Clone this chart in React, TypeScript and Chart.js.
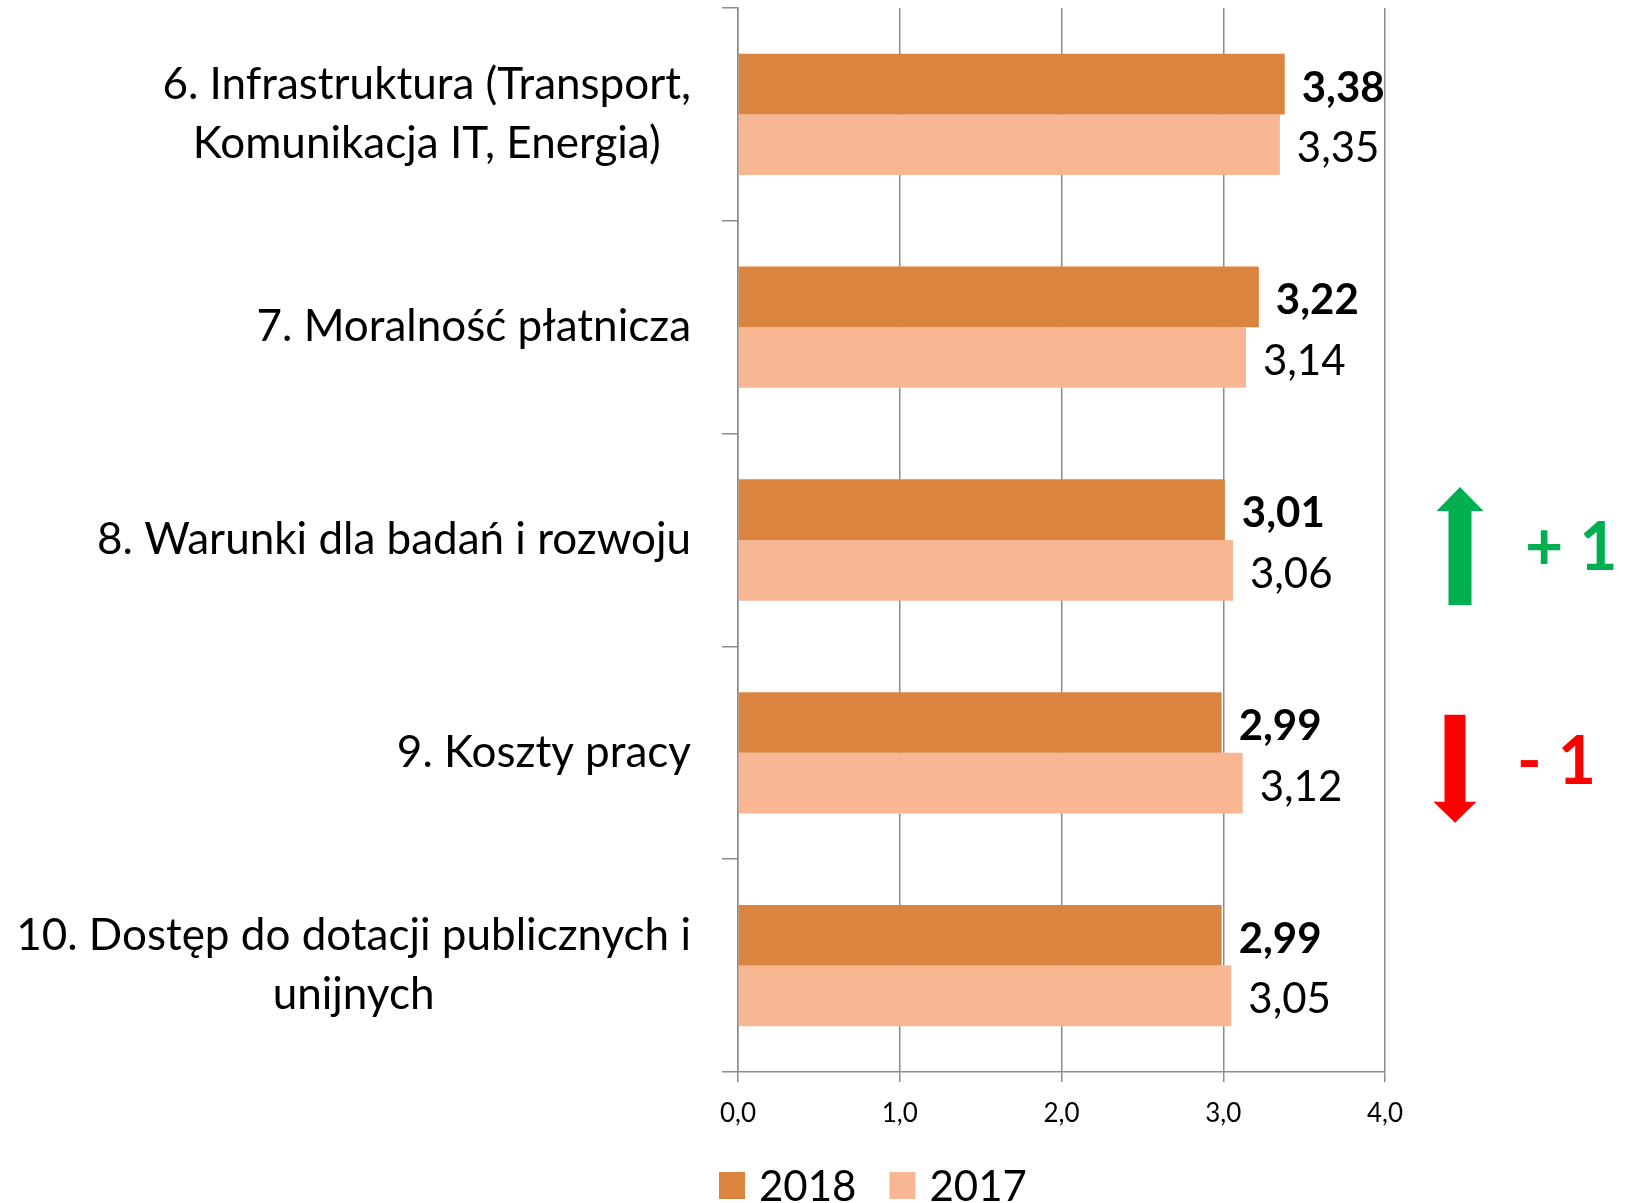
import React, { useEffect, useRef } from "react";
import { Chart, registerables } from "chart.js";

Chart.register(...registerables);

// ---- data ----
const categories: string[][] = [
  ["6. Infrastruktura (Transport,", "Komunikacja IT, Energia)"],
  ["7. Moralność płatnicza"],
  ["8. Warunki dla badań i rozwoju"],
  ["9. Koszty pracy"],
  ["10. Dostęp do dotacji publicznych i", "unijnych"],
];
const seriesLabels = ["2018", "2017"];
const values2018 = [3.38, 3.22, 3.01, 2.99, 2.99];
const values2017 = [3.35, 3.14, 3.06, 3.12, 3.05];
const xMin = 0;
const xMax = 4;
const xStep = 1;
// rank change per category (null = no marker)
const rankChanges: (number | null)[] = [null, null, 1, -1, null];
const rankLabels: (string | null)[] = [null, null, "+ 1", "- 1", null];

// ---- styles ----
const COLOR_2018 = "#DB843F";
const COLOR_2017 = "#F8B692";
const GRID = "#8C8C8C";
const FONT = "Lato, 'Open Sans', sans-serif";
const CAT_SIZE = 44;
const CAT_LINE = 59;

const fmt = (v: number, d: number) => v.toFixed(d).replace(".", ",");

const categoryLabelPlugin = {
  id: "categoryLabels",
  afterDraw(chart: any) {
    const ctx = chart.ctx;
    const y = chart.scales.y;
    const rightEdge = y.right - 16 - 31;
    ctx.save();
    ctx.font = `${CAT_SIZE}px ${FONT}`;
    ctx.fillStyle = "#000";
    ctx.textAlign = "center";
    ctx.textBaseline = "middle";
    categories.forEach((lines, i) => {
      const cy = y.getPixelForValue(i);
      const maxW = Math.max(...lines.map((l) => ctx.measureText(l).width));
      const cx = rightEdge - maxW / 2;
      const start = cy - ((lines.length - 1) * CAT_LINE) / 2;
      lines.forEach((l, j) => ctx.fillText(l, cx, start + j * CAT_LINE));
    });
    ctx.restore();
  },
};

const valueLabelPlugin = {
  id: "valueLabels",
  afterDatasetsDraw(chart: any) {
    const ctx = chart.ctx;
    ctx.save();
    ctx.fillStyle = "#000";
    ctx.textAlign = "left";
    ctx.textBaseline = "middle";
    chart.data.datasets.forEach((ds: any, di: number) => {
      const meta = chart.getDatasetMeta(di);
      ctx.font = `${di === 0 ? "bold " : ""}42px ${FONT}`;
      meta.data.forEach((el: any, i: number) => {
        ctx.fillText(fmt(ds.data[i], 2), el.x + 17, el.y + 4);
      });
    });
    ctx.restore();
  },
};

const legendPlugin = {
  id: "customLegend",
  afterDraw(chart: any) {
    const ctx = chart.ctx;
    const area = chart.chartArea;
    let x = area.left - 19;
    const top = area.bottom + 100;
    ctx.save();
    ctx.font = `42px ${FONT}`;
    ctx.textAlign = "left";
    ctx.textBaseline = "middle";
    chart.data.datasets.forEach((ds: any) => {
      ctx.fillStyle = ds.backgroundColor;
      ctx.fillRect(x, top, 26, 27);
      ctx.fillStyle = "#000";
      ctx.fillText(ds.label, x + 40, top + 15);
      x += 40 + ctx.measureText(ds.label).width + 33;
    });
    ctx.restore();
  },
};

const arrowPlugin = {
  id: "rankArrows",
  afterDraw(chart: any) {
    const ctx = chart.ctx;
    const area = chart.chartArea;
    const y = chart.scales.y;
    ctx.save();
    rankChanges.forEach((c, i) => {
      if (c === null) return;
      const cy = y.getPixelForValue(i);
      const up = c > 0;
      ctx.fillStyle = up ? "#00B050" : "#FF0000";
      ctx.beginPath();
      if (up) {
        const cx = area.right + 75;
        const sw = 23 / 2, hw = 47 / 2;
        ctx.moveTo(cx, cy - 53);
        ctx.lineTo(cx + hw, cy - 29);
        ctx.lineTo(cx + sw, cy - 29);
        ctx.lineTo(cx + sw, cy + 65);
        ctx.lineTo(cx - sw, cy + 65);
        ctx.lineTo(cx - sw, cy - 29);
        ctx.lineTo(cx - hw, cy - 29);
      } else {
        const cx = area.right + 70;
        const sw = 21 / 2, hw = 43 / 2;
        ctx.moveTo(cx, cy + 70);
        ctx.lineTo(cx + hw, cy + 49);
        ctx.lineTo(cx + sw, cy + 49);
        ctx.lineTo(cx + sw, cy - 38);
        ctx.lineTo(cx - sw, cy - 38);
        ctx.lineTo(cx - sw, cy + 49);
        ctx.lineTo(cx - hw, cy + 49);
      }
      ctx.closePath();
      ctx.fill();
      ctx.font = `bold 66px ${FONT}`;
      ctx.textAlign = "left";
      ctx.textBaseline = "middle";
      ctx.fillText(rankLabels[i] as string, area.right + (up ? 140 : 132), cy + (up ? 9 : 10));
    });
    ctx.restore();
  },
};

export default function App() {
  const ref = useRef<HTMLCanvasElement | null>(null);

  useEffect(() => {
    document.body.style.margin = "0";
    if (!ref.current) return;
    const chart = new Chart(ref.current, {
      type: "bar",
      data: {
        labels: categories.map((c) => c.join(" ")),
        datasets: [
          {
            label: seriesLabels[0],
            data: values2018,
            backgroundColor: COLOR_2018,
            categoryPercentage: 0.57,
            barPercentage: 1.0,
          },
          {
            label: seriesLabels[1],
            data: values2017,
            backgroundColor: COLOR_2017,
            categoryPercentage: 0.57,
            barPercentage: 1.0,
          },
        ],
      },
      options: {
        indexAxis: "y",
        responsive: false,
        animation: false,
        devicePixelRatio: 1,
        layout: { padding: { top: 8, right: 252, left: 0, bottom: 0 } },
        plugins: {
          legend: { display: false },
          tooltip: { enabled: false },
        },
        scales: {
          x: {
            min: xMin,
            max: xMax,
            ticks: {
              stepSize: xStep,
              font: { family: FONT, size: 26 },
              color: "#000",
              padding: 16,
              callback: (v: any) => fmt(Number(v), 1),
            },
            grid: {
              color: GRID,
              lineWidth: 1.5,
              tickLength: 10,
              drawTicks: true,
            },
            border: { display: true, color: GRID, width: 1.5 },
            afterFit: (s: any) => {
              s.height = 131;
            },
          },
          y: {
            ticks: { display: false },
            grid: {
              drawOnChartArea: false,
              drawTicks: true,
              tickLength: 16,
              color: GRID,
              lineWidth: 1.5,
              offset: true,
            },
            border: { display: true, color: GRID, width: 1.5 },
            afterFit: (s: any) => {
              s.width = 738;
            },
          },
        },
      },
      plugins: [categoryLabelPlugin, valueLabelPlugin, legendPlugin, arrowPlugin],
    });
    return () => chart.destroy();
  }, []);

  return (
    <div style={{ width: 1637, height: 1203, background: "#fff" }}>
      <canvas ref={ref} width={1637} height={1203} style={{ display: "block" }} />
    </div>
  );
}
